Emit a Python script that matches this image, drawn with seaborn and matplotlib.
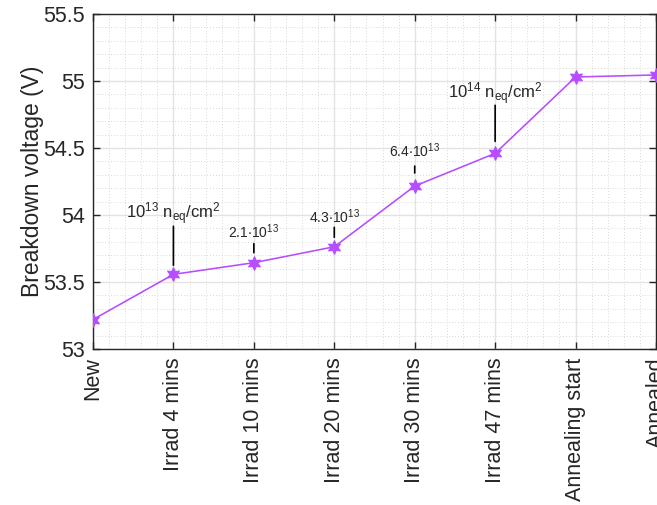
import matplotlib
matplotlib.use("Agg")
import matplotlib.pyplot as plt
from matplotlib.ticker import MultipleLocator
import seaborn as sns
import pandas as pd

categories = ["New", "Irrad 4 mins", "Irrad 10 mins", "Irrad 20 mins",
              "Irrad 30 mins", "Irrad 47 mins", "Annealing start", "Annealed"]
breakdown_voltage = [53.22, 53.557, 53.644, 53.763, 54.216, 54.46, 55.03, 55.045]
y_ticks = [53, 53.5, 54, 54.5, 55, 55.5]
y_tick_labels = ["53", "53.5", "54", "54.5", "55", "55.5"]

# annotations: category index, label text
ann_index = [1, 2, 3, 4, 5]
ann_text = [r"$10^{13}$ n$_{eq}$/cm$^{2}$", r"2.1$\cdot$10$^{13}$",
            r"4.3$\cdot$10$^{13}$", r"6.4$\cdot$10$^{13}$",
            r"$10^{14}$ n$_{eq}$/cm$^{2}$"]

sns.set_style("ticks")
plt.rcParams["font.family"] = ["Liberation Sans", "DejaVu Sans"]
plt.rcParams["mathtext.fontset"] = "custom"
plt.rcParams["mathtext.rm"] = "Liberation Sans"
plt.rcParams["mathtext.it"] = "Liberation Sans"
plt.rcParams["mathtext.bf"] = "Liberation Sans:bold"
plt.rcParams["mathtext.default"] = "regular"

fig = plt.figure(figsize=(6.57, 5.05), dpi=100)
ax = fig.add_axes([93 / 657, 1 - 349 / 505, 563 / 657, 335 / 505])

df = pd.DataFrame({"stage": categories, "V": breakdown_voltage})
color = "#b64dff"
sns.lineplot(data=df, x="stage", y="V", sort=False, ax=ax, color=color,
             linewidth=1.15, marker=(6, 1, 0), markersize=10,
             markeredgecolor=color, markerfacecolor=color, zorder=5)

ax.set_xlim(0, len(categories) - 1)
ax.set_ylim(53, 55.5)
ax.set_xticks(range(len(categories)))
ax.set_xticklabels(categories, rotation=90, va="top", ha="center")
ax.set_yticks(y_ticks)
ax.set_yticklabels(y_tick_labels)
ax.xaxis.set_minor_locator(MultipleLocator(0.2))
ax.yaxis.set_minor_locator(MultipleLocator(0.1))

txtcol = "#262626"
ax.grid(which="major", color="#e3e3e3", linewidth=1.0, linestyle="-")
ax.grid(which="minor", color="#cccccc", linewidth=0.6, linestyle=(0, (1, 2.5)))
ax.set_axisbelow(True)
ax.tick_params(which="major", direction="in", length=5, width=1,
               top=True, right=True, labelsize=15.5, colors=txtcol, pad=6)
ax.tick_params(which="minor", length=0)
for s in ax.spines.values():
    s.set_color(txtcol)
    s.set_linewidth(1.0)

ax.set_xlabel("")
ax.set_ylabel("Breakdown voltage (V)", fontsize=16.5, color=txtcol, labelpad=-1)

# offsets in points: text baseline, line top, line bottom gap, font size
text_off = [40.3, 18.0, 17.1, 20.9, 39.6]
line_top = [34.6, 13.7, 14.0, 14.4, 34.6]
line_gap = [6.5, 7.2, 6.8, 9.4, 8.6]
font_sz = [12, 10, 10, 10, 12]
for k, i in enumerate(ann_index):
    v = breakdown_voltage[i]
    ax.annotate(ann_text[k], xy=(i, v), xytext=(0, text_off[k]),
                textcoords="offset points", ha="center", va="baseline",
                fontsize=font_sz[k], color=txtcol)
    ax.annotate("", xy=(i, v), xytext=(0, line_top[k]),
                textcoords="offset points",
                arrowprops=dict(arrowstyle="-", color="black", lw=1.2,
                                shrinkA=0, shrinkB=line_gap[k]))

fig.savefig("out.png", dpi=100)
